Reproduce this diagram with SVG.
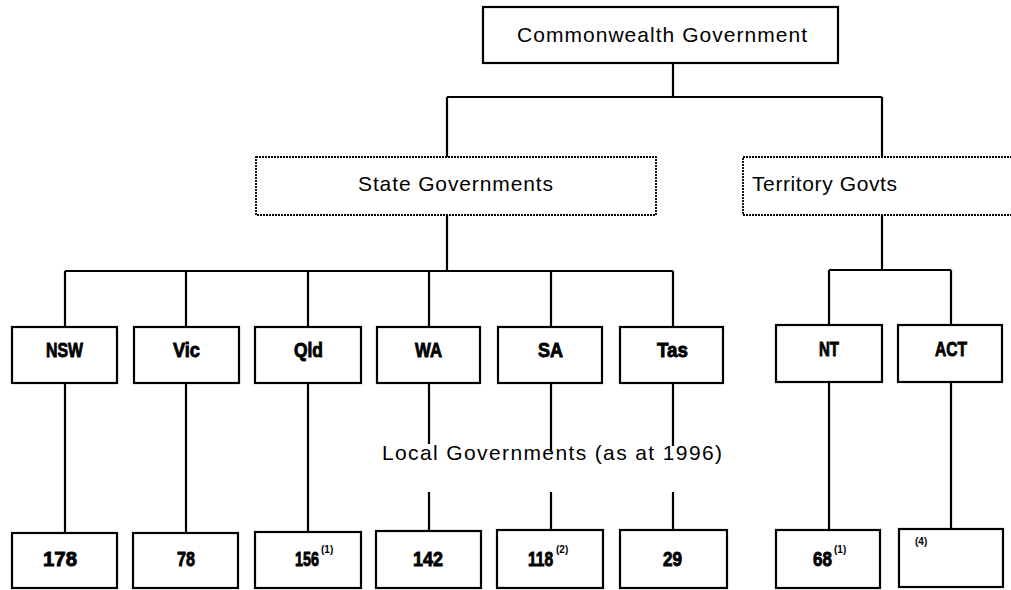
<svg xmlns="http://www.w3.org/2000/svg" width="1011" height="590" viewBox="0 0 1011 590">
<style>
.bg{fill:#fff}
.box{fill:#fff;stroke:#000;stroke-width:2.2}
.dbox{fill:#fff;stroke:#000;stroke-width:1.8;stroke-dasharray:2 1}
.ln{fill:none;stroke:#000;stroke-width:2.2}
.t{font-family:"Liberation Sans",Arial,sans-serif;font-size:21px;fill:#000}
.b{font-family:"Liberation Sans","DejaVu Sans Condensed",sans-serif;font-weight:bold;font-size:21px;fill:#000;stroke:#000;stroke-width:0.9}
.s{font-family:"Liberation Sans",sans-serif;font-weight:bold;font-size:10px;fill:#000;stroke:none}
</style>
<rect class="bg" x="0" y="0" width="1011" height="590"/>
<g id="connectors">
<path class="ln" d="M673,63 V97 M447,97 H882 M447,97 V157 M882,97 V157"/>
<path class="ln" d="M447,215 V271 M65,271 H673 M65,271 V327 M186,271 V327 M308,271 V327 M429,271 V327 M551,271 V327 M673,271 V327"/>
<path class="ln" d="M882,215 V270 M829,270 H951 M829,270 V325 M951,270 V325"/>
<path class="ln" d="M65,383 V533 M186,383 V533 M308,383 V532 M829,382 V530 M951,382 V529"/>
<path class="ln" d="M429,383 V444 M551,383 V452 M673,383 V446 M429,492 V531 M551,492 V530 M673,492 V530"/>
</g>
<g id="commonwealth"><rect class="box" x="483" y="7" width="355" height="56"/><text class="t" x="517" y="42" textLength="290">Commonwealth Government</text></g>
<g id="state-govts"><rect class="dbox" x="256" y="157" width="400" height="58"/><text class="t" x="358" y="191" textLength="195">State Governments</text></g>
<g id="territory-govts"><rect class="dbox" x="743" y="157" width="290" height="58"/><text class="t" x="752" y="191" textLength="145">Territory Govts</text></g>
<g id="nsw"><rect class="box" x="12" y="327" width="105" height="56"/><text class="b" x="46" y="357" textLength="37" lengthAdjust="spacingAndGlyphs">NSW</text></g>
<g id="vic"><rect class="box" x="134" y="327" width="105" height="56"/><text class="b" x="173" y="357" textLength="27" lengthAdjust="spacingAndGlyphs">Vic</text></g>
<g id="qld"><rect class="box" x="255" y="327" width="106" height="56"/><text class="b" x="294" y="357" textLength="29" lengthAdjust="spacingAndGlyphs">Qld</text></g>
<g id="wa"><rect class="box" x="377" y="327" width="103" height="56"/><text class="b" x="415" y="357" textLength="27" lengthAdjust="spacingAndGlyphs">WA</text></g>
<g id="sa"><rect class="box" x="498" y="327" width="104" height="56"/><text class="b" x="538" y="357" textLength="25" lengthAdjust="spacingAndGlyphs">SA</text></g>
<g id="tas"><rect class="box" x="620" y="327" width="103" height="56"/><text class="b" x="657" y="357" textLength="31" lengthAdjust="spacingAndGlyphs">Tas</text></g>
<g id="nt"><rect class="box" x="776" y="325" width="106" height="57"/><text class="b" x="819" y="356" textLength="20" lengthAdjust="spacingAndGlyphs">NT</text></g>
<g id="act"><rect class="box" x="898" y="325" width="104" height="57"/><text class="b" x="935" y="356" textLength="32" lengthAdjust="spacingAndGlyphs">ACT</text></g>
<g id="local-label"><text class="t" x="382" y="460" textLength="340">Local Governments (as at  1996)</text></g>
<g id="lg-nsw"><rect class="box" x="12" y="533" width="105" height="55"/><text class="b" x="43" y="566" textLength="34" lengthAdjust="spacingAndGlyphs">178</text></g>
<g id="lg-vic"><rect class="box" x="133" y="533" width="105" height="55"/><text class="b" x="177" y="566" textLength="18" lengthAdjust="spacingAndGlyphs">78</text></g>
<g id="lg-qld"><rect class="box" x="255" y="532" width="106" height="56"/><text class="b" transform="translate(295,566) scale(0.686,1)">156</text><text class="s" x="321" y="553">(1)</text></g>
<g id="lg-wa"><rect class="box" x="376" y="531" width="105" height="57"/><text class="b" x="413" y="566" textLength="30" lengthAdjust="spacingAndGlyphs">142</text></g>
<g id="lg-sa"><rect class="box" x="497" y="530" width="106" height="58"/><text class="b" transform="translate(528,566) scale(0.743,1)">118</text><text class="s" x="556" y="553">(2)</text></g>
<g id="lg-tas"><rect class="box" x="620" y="530" width="107" height="58"/><text class="b" x="663" y="566" textLength="19" lengthAdjust="spacingAndGlyphs">29</text></g>
<g id="lg-nt"><rect class="box" x="776" y="530" width="104" height="58"/><text class="b" transform="translate(813,566) scale(0.81,1)">68</text><text class="s" x="834" y="553">(1)</text></g>
<g id="lg-act"><rect class="box" x="899" y="529" width="104" height="58"/><text class="s" x="915" y="545">(4)</text></g>
</svg>
